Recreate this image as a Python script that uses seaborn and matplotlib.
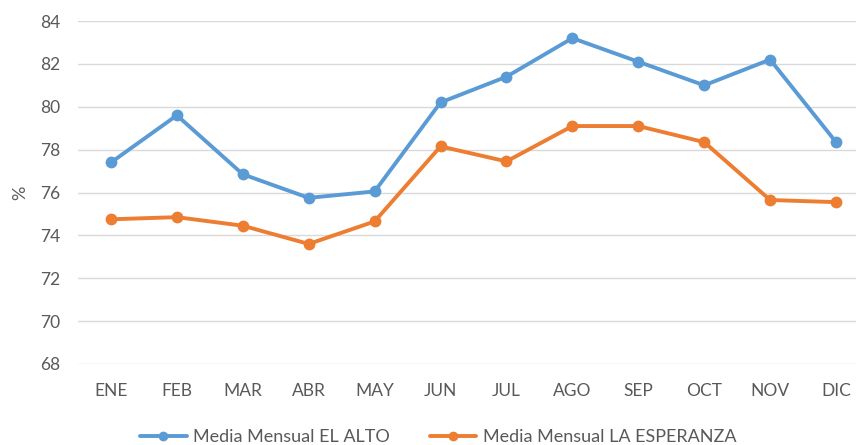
import matplotlib
matplotlib.use("Agg")
import matplotlib.pyplot as plt
from matplotlib.lines import Line2D
import seaborn as sns
import pandas as pd

meses = ["ENE", "FEB", "MAR", "ABR", "MAY", "JUN", "JUL", "AGO", "SEP", "OCT", "NOV", "DIC"]
el_alto = [77.4, 79.6, 76.85, 75.75, 76.05, 80.2, 81.4, 83.2, 82.1, 81.0, 82.2, 78.35]
la_esperanza = [74.75, 74.85, 74.45, 73.6, 74.65, 78.15, 77.45, 79.1, 79.1, 78.35, 75.65, 75.55]
series = ["Media Mensual EL ALTO", "Media Mensual LA ESPERANZA"]
y_ticks = [68, 70, 72, 74, 76, 78, 80, 82, 84]

sns.set_theme(style="white")
plt.rcParams["font.family"] = ["Lato", "DejaVu Sans"]

df = pd.DataFrame({
    "mes": meses * 2,
    "x": list(range(len(meses))) * 2,
    "valor": el_alto + la_esperanza,
    "serie": [series[0]] * len(meses) + [series[1]] * len(meses),
})

fig = plt.figure(figsize=(8.56, 4.45), dpi=100)
ax = fig.add_axes([78 / 856, 81 / 445, 791 / 856, 343 / 445])

colores = ["#5B9BD5", "#ED7D31"]
palette = dict(zip(series, colores))
sns.lineplot(data=df, x="x", y="valor", hue="serie", palette=palette,
             marker="o", markersize=8.5, markeredgewidth=0, linewidth=2.8,
             ax=ax, legend=False)

ax.set_xlim(-0.5, len(meses) - 0.5)
ax.set_ylim(68, 84)
ax.set_yticks(y_ticks)
ax.set_yticklabels([str(t) for t in y_ticks])
ax.set_xticks(range(len(meses)))
ax.set_xticklabels(meses)
ax.grid(axis="y", color="#D9D9D9", linewidth=1)
ax.set_axisbelow(True)
for s in ax.spines.values():
    s.set_visible(False)
ax.tick_params(axis="y", length=0, pad=13, labelsize=12.5, labelcolor="#595959")
ax.tick_params(axis="x", length=0, pad=14, labelsize=12.5, labelcolor="#595959")
ax.set_xlabel("")
ax.set_ylabel("%", fontsize=13, color="#595959", labelpad=8)

handles = [Line2D([0], [0], color=c, linewidth=2.8, marker="o", markersize=7,
                  markeredgewidth=0) for c in colores]
ax.legend(handles, series, loc="center", bbox_to_anchor=(360 / 791, -0.213),
          ncol=2, frameon=False, fontsize=13, labelcolor="#595959",
          handlelength=2.6, handletextpad=0.35, columnspacing=2.2)

fig.savefig("out.png", dpi=100)
